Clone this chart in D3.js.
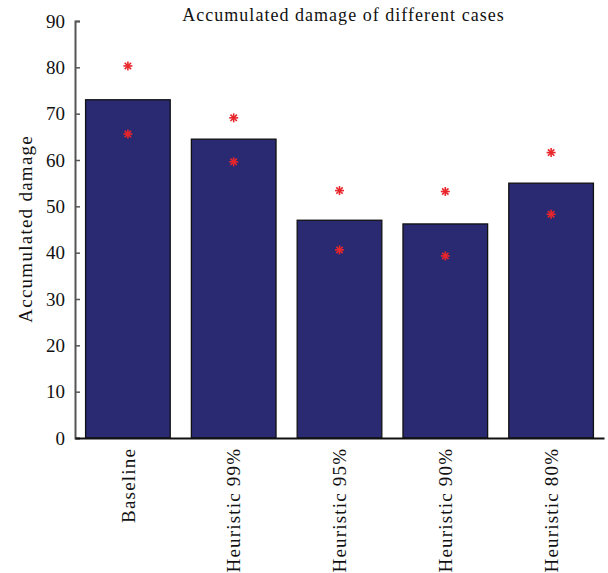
<!DOCTYPE html>
<html><head><meta charset="utf-8">
<script src="https://cdn.jsdelivr.net/npm/d3@7"></script>
<style>body{margin:0;background:#fff}svg{display:block}</style>
</head><body>
<script>
const categories = ["Baseline","Heuristic 99%","Heuristic 95%","Heuristic 90%","Heuristic 80%"];
const barValues = [73.0, 64.5, 47.0, 46.2, 55.0];
const upperStars = [80.3, 69.1, 53.4, 53.2, 61.6];
const lowerStars = [65.6, 59.6, 40.6, 39.3, 48.3];
const yTicks = [0,10,20,30,40,50,60,70,80,90];

const W = 608, H = 573;
const m = {left:75, right:4, top:21, bottom:135};
const svg = d3.select("body").append("svg").attr("width",W).attr("height",H);
const font = "'Liberation Serif', 'Times New Roman', serif";
const widen = 1.13;

const x = d3.scaleBand().domain(categories).range([m.left, W-m.right]).paddingInner(0.2).paddingOuter(0.1);
const y = d3.scaleLinear().domain([0,90]).range([H-m.bottom, m.top]);

function stretch(sel){
  sel.each(function(){
    const L = this.getComputedTextLength();
    d3.select(this).attr("textLength", L*widen).attr("lengthAdjust","spacing");
  });
}

// bars
svg.append("g").selectAll("rect").data(categories).join("rect")
  .attr("x", d=>x(d)).attr("width", x.bandwidth())
  .attr("y", (d,i)=>y(barValues[i])).attr("height",(d,i)=>y(0)-y(barValues[i]))
  .attr("fill","#292a72").attr("stroke","#111").attr("stroke-width",1.3);

// y axis
const ya = d3.axisLeft(y).tickValues(yTicks).tickSize(-5).tickPadding(10).tickFormat(d3.format("d"));
const gy = svg.append("g").attr("transform",`translate(${m.left},0)`).call(ya);
gy.select(".domain").attr("stroke","#555").attr("stroke-width",2);
gy.selectAll(".tick line").attr("stroke","#555").attr("stroke-width",1.5);
gy.selectAll("text").attr("font-family",font).attr("font-size",19).attr("fill","#111");

// x axis
const xa = d3.axisBottom(x).tickSize(0).tickPadding(10);
const gx = svg.append("g").attr("transform",`translate(0,${y(0)})`).call(xa);
gx.select(".domain").attr("stroke","#111").attr("stroke-width",2);
gx.selectAll("text").attr("font-family",font).attr("font-size",19).attr("fill","#111")
  .attr("transform","rotate(-90)").attr("text-anchor","end").attr("dy","0.35em").attr("x",-11).attr("y",0)
  .call(stretch);

// star markers
function star(g, cx, cy){
  const r = 4.5;
  for(let k=0;k<4;k++){
    const a = k*Math.PI/4;
    g.append("line").attr("x1",cx-r*Math.cos(a)).attr("y1",cy-r*Math.sin(a))
      .attr("x2",cx+r*Math.cos(a)).attr("y2",cy+r*Math.sin(a))
      .attr("stroke","#e8262b").attr("stroke-width",1.6);
  }
}
const gs = svg.append("g");
categories.forEach((c,i)=>{
  const cx = x(c)+x.bandwidth()/2;
  star(gs, cx, y(upperStars[i]));
  star(gs, cx, y(lowerStars[i]));
});

// title
svg.append("text").attr("x",343).attr("y",21).attr("text-anchor","middle")
  .attr("font-family",font).attr("font-size",18).attr("fill","#111")
  .text("Accumulated damage of different cases").call(stretch);
// y label
svg.append("text").attr("transform",`translate(32,${y(45)}) rotate(-90)`).attr("text-anchor","middle")
  .attr("font-family",font).attr("font-size",19).attr("fill","#111")
  .text("Accumulated damage").call(stretch);
</script>
</body></html>
